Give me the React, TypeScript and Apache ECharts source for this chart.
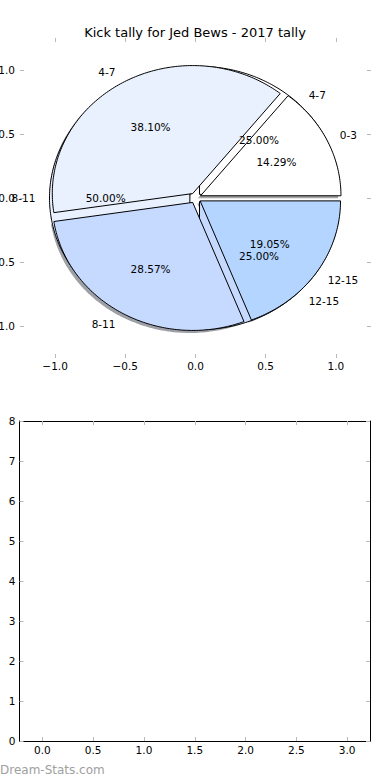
import React, { useEffect, useRef } from "react";
import * as echarts from "echarts";

const CATEGORIES = ["0-3", "4-7", "8-11", "12-15"];
const TALLY_VALUES = [3, 8, 6, 4];
const TALLY_COLORS = ["#ffffff", "#e9f1fe", "#c6d9ff", "#b3d5ff"];
const SECOND_CATEGORIES = ["4-7", "8-11", "12-15"];
const SECOND_VALUES = [1, 2, 1];
const SECOND_COLORS = ["#ffffff", "#e9f1fe", "#c6d9ff"];
const PIE_TICKS = [-1, -0.5, 0, 0.5, 1];
const BAR_X_TICKS = [0, 0.5, 1, 1.5, 2, 2.5, 3];
const BAR_Y_MAX = 8;
const TITLE = "Kick tally for Jed Bews - 2017 tally";
const WATERMARK = "Dream-Stats.com";

const EXPLODE = 0.04;
const SHADOW_OFFSET = -0.02;
const FONT = "DejaVu Sans";
const TICK_COLOR = "#b8b8b8";

type Slice = { a0: number; a1: number; mid: number; dx: number; dy: number; pct: number };

function makeSlices(values: number[]): Slice[] {
  const total = values.reduce((s, v) => s + v, 0);
  let acc = 0;
  return values.map((v) => {
    const a0 = (acc / total) * 360;
    acc += v;
    const a1 = (acc / total) * 360;
    const mid = (a0 + a1) / 2;
    const r = (mid * Math.PI) / 180;
    return { a0, a1, mid, dx: EXPLODE * Math.cos(r), dy: EXPLODE * Math.sin(r), pct: (v / total) * 100 };
  });
}

function wedgePoints(api: any, cx: number, cy: number, r: number, a0: number, a1: number) {
  const pts: number[][] = [api.coord([cx, cy])];
  const n = Math.max(2, Math.ceil(a1 - a0));
  for (let k = 0; k <= n; k++) {
    const a = ((a0 + ((a1 - a0) * k) / n) * Math.PI) / 180;
    pts.push(api.coord([cx + r * Math.cos(a), cy + r * Math.sin(a)]));
  }
  return pts;
}

function shade(hex: string) {
  const n = parseInt(hex.slice(1), 16);
  const r = Math.round(((n >> 16) & 255) * 0.3);
  const g = Math.round(((n >> 8) & 255) * 0.3);
  const b = Math.round((n & 255) * 0.3);
  return `rgba(${r},${g},${b},0.5)`;
}

const fmt = (v: number) => v.toFixed(1).replace("-", "\u2212");

export default function App() {
  const ref = useRef<HTMLDivElement>(null);

  useEffect(() => {
    if (!ref.current) return;
    const chart = echarts.init(ref.current, undefined, { renderer: "svg" });

    const s1 = makeSlices(TALLY_VALUES);
    const s2 = makeSlices(SECOND_VALUES);

    type Lbl = { x: number; y: number; text: string; align: string };
    const labels: Lbl[] = [];
    const addLabels = (slices: Slice[], names: string[]) => {
      slices.forEach((s, i) => {
        const r = (s.mid * Math.PI) / 180;
        const lx = s.dx + 1.1 * Math.cos(r);
        const ly = s.dy + 1.1 * Math.sin(r);
        labels.push({ x: lx, y: ly, text: names[i], align: lx > 0 ? "left" : "right" });
        labels.push({
          x: s.dx + 0.6 * Math.cos(r),
          y: s.dy + 0.6 * Math.sin(r),
          text: s.pct.toFixed(2) + "%",
          align: "center",
        });
      });
    };
    addLabels(s1, CATEGORIES);
    addLabels(s2, SECOND_CATEGORIES);

    const tickLabel = { fontSize: 10.5, color: "#000", fontFamily: FONT };

    const pieAxisX = (position: string, showLabel: boolean) => ({
      type: "value",
      gridIndex: 0,
      position,
      min: -1.25,
      max: 1.25,
      axisLine: { show: false, onZero: false },
      splitLine: { show: false },
      axisTick: { show: true, inside: true, length: 4, customValues: PIE_TICKS, lineStyle: { color: TICK_COLOR } },
      axisLabel: { show: showLabel, customValues: PIE_TICKS, formatter: fmt, margin: 2, ...tickLabel },
    });
    const pieAxisY = (position: string, showLabel: boolean) => ({
      type: "value",
      gridIndex: 0,
      position,
      min: -1.25,
      max: 1.25,
      axisLine: { show: false, onZero: false },
      splitLine: { show: false },
      axisTick: { show: true, inside: true, length: 4, customValues: PIE_TICKS, lineStyle: { color: TICK_COLOR } },
      axisLabel: { show: showLabel, customValues: PIE_TICKS, formatter: fmt, margin: 5, ...tickLabel },
    });
    const barAxisX = (position: string, showLabel: boolean) => ({
      type: "value",
      gridIndex: 1,
      position,
      min: -0.225,
      max: 3.225,
      axisLine: { show: true, onZero: false, lineStyle: { color: "#000", width: 1 } },
      splitLine: { show: false },
      axisTick: { show: true, inside: true, length: 4, customValues: BAR_X_TICKS, lineStyle: { color: TICK_COLOR } },
      axisLabel: { show: showLabel, customValues: BAR_X_TICKS, formatter: fmt, margin: 3, ...tickLabel },
    });
    const barAxisY = (position: string, showLabel: boolean) => ({
      type: "value",
      gridIndex: 1,
      position,
      min: 0,
      max: BAR_Y_MAX,
      interval: 1,
      axisLine: { show: true, onZero: false, lineStyle: { color: "#000", width: 1 } },
      splitLine: { show: false },
      axisTick: { show: true, inside: true, length: 4, lineStyle: { color: TICK_COLOR } },
      axisLabel: { show: showLabel, margin: 4, ...tickLabel },
    });

    const wedgeSeries = (
      name: string,
      slices: Slice[],
      colors: string[],
      shadow: boolean,
      z: number
    ) => ({
      type: "custom",
      name,
      xAxisIndex: 0,
      yAxisIndex: 0,
      z,
      silent: true,
      encode: { x: 0, y: 1 },
      data: slices.map((_, i) => [0, 0, i]),
      renderItem: (_p: any, api: any) => {
        const i = api.value(2);
        const s = slices[i];
        const off = shadow ? SHADOW_OFFSET : 0;
        return {
          type: "polygon",
          shape: { points: wedgePoints(api, s.dx + off, s.dy + off, 1, s.a0, s.a1) },
          style: shadow
            ? { fill: shade(colors[i]), stroke: "none" }
            : { fill: colors[i], stroke: "#000", lineWidth: 1, lineJoin: "miter" },
        };
      },
    });

    chart.setOption({
      animation: false,
      textStyle: { fontFamily: FONT },
      title: {
        text: TITLE,
        left: "center",
        top: 21,
        textStyle: { fontSize: 13, fontWeight: "normal", color: "#000", fontFamily: FONT },
      },
      grid: [
        { left: 20, top: 38, width: 351, height: 320, containLabel: false, outerBoundsMode: "none" },
        { left: 19.5, top: 421, width: 350.5, height: 320, containLabel: false, outerBoundsMode: "none" },
      ],
      xAxis: [pieAxisX("bottom", true), pieAxisX("top", false), barAxisX("bottom", true), barAxisX("top", false)],
      yAxis: [pieAxisY("left", true), pieAxisY("right", false), barAxisY("left", true), barAxisY("right", false)],
      graphic: [
        {
          type: "text",
          left: 0,
          top: 764,
          style: { text: WATERMARK, fill: "#a0a0a0", font: `12px "${FONT}"` },
        },
      ],
      series: [
        wedgeSeries("shadow", s1, TALLY_COLORS, true, 1),
        wedgeSeries("second", s2, SECOND_COLORS, false, 2),
        wedgeSeries("tally", s1, TALLY_COLORS, false, 3),
        {
          type: "custom",
          name: "labels",
          xAxisIndex: 0,
          yAxisIndex: 0,
          z: 4,
          silent: true,
          encode: { x: 0, y: 1 },
          data: labels.map((l, i) => [l.x, l.y, i]),
          renderItem: (_p: any, api: any) => {
            const l = labels[api.value(2)];
            const p = api.coord([api.value(0), api.value(1)]);
            return {
              type: "text",
              x: p[0],
              y: p[1],
              style: {
                text: l.text,
                align: l.align,
                verticalAlign: "middle",
                textAlign: l.align,
                textVerticalAlign: "middle",
                fill: "#000",
                font: `10.5px "${FONT}"`,
              },
            };
          },
        },
        { type: "scatter", xAxisIndex: 2, yAxisIndex: 2, data: [] },
      ],
    });

    return () => chart.dispose();
  }, []);

  return (
    <div
      ref={ref}
      style={{ position: "fixed", left: 0, top: 0, width: 390, height: 780, background: "#fff" }}
    />
  );
}
